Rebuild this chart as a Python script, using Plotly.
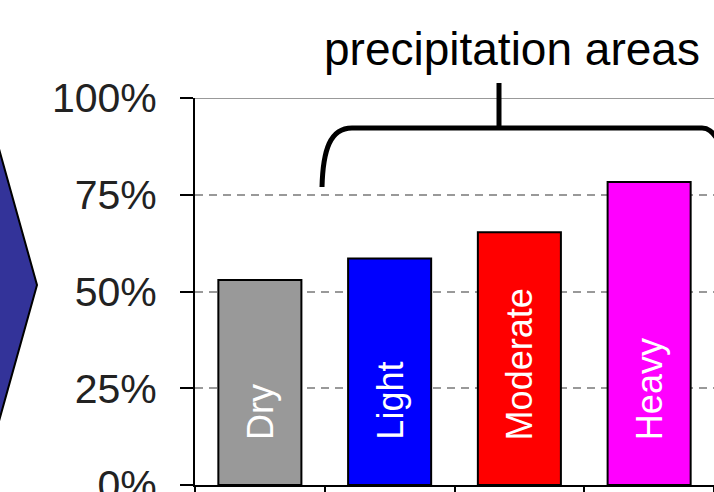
import plotly.graph_objects as go

categories = ["Dry", "Light", "Moderate", "Heavy"]
values = [53, 58.5, 65.3, 78.3]
colors = ["#999999", "#0000FF", "#FF0000", "#FF00FF"]
y_ticks = [0, 25, 50, 75, 100]
y_labels = ["0%", "25%", "50%", "75%", "100%"]
title_text = "precipitation areas"

W, H = 714, 492
L, R, T, B = 195, 0, 98, 7
PW, PH = W - L - R, H - T - B
FONT = "Liberation Sans, Arial, sans-serif"


def px(x, y):
    return (x - L) / PW, (H - B - y) / PH


def path(points_cmds):
    out = []
    for cmd, pts in points_cmds:
        s = cmd
        for (x, y) in pts:
            a, b = px(x, y)
            s += f" {a:.5f},{b:.5f}"
        out.append(s)
    return " ".join(out)


fig = go.Figure()
fig.add_trace(go.Bar(
    x=categories, y=values,
    marker=dict(color=colors, line=dict(color="black", width=2)),
    showlegend=False, hoverinfo="skip",
))

for c in categories:
    fig.add_annotation(x=c, y=0, xref="x", yref="y", text=c, textangle=-90,
                       showarrow=False, yanchor="bottom", xanchor="center", yshift=43,
                       font=dict(family=FONT, size=36, color="white"))

fig.add_annotation(x=px(512, 0)[0], y=px(0, 49)[1], xref="paper", yref="paper",
                   text=title_text, showarrow=False, xanchor="center", yanchor="middle",
                   font=dict(family=FONT, size=46, color="black"))

shapes = []
# top border line at 100%
shapes.append(dict(type="line", xref="paper", yref="y", x0=0, x1=1, y0=100, y1=100,
                   line=dict(color="#999999", width=2), layer="below"))
# chevron on the left
shapes.append(dict(type="path", xref="paper", yref="paper",
                   path=path([("M", [(-6, 131)]), ("L", [(37, 285)]), ("L", [(-6, 439)])]) + " Z",
                   fillcolor="#333399", line=dict(color="black", width=2)))
# brace
shapes.append(dict(type="path", xref="paper", yref="paper",
                   path=path([("M", [(322, 187)]),
                              ("C", [(323, 150), (330, 128), (352, 128)]),
                              ("L", [(702, 128)]),
                              ("C", [(708, 128), (712, 131), (718, 140)])]),
                   line=dict(color="black", width=5)))
shapes.append(dict(type="path", xref="paper", yref="paper",
                   path=path([("M", [(499, 83)]), ("L", [(499, 128)])]),
                   line=dict(color="black", width=5)))

fig.update_layout(
    width=W, height=H,
    margin=dict(l=L, r=R, t=T, b=B, pad=0, autoexpand=False),
    paper_bgcolor="white", plot_bgcolor="white",
    bargap=0.36,
    shapes=shapes,
    font=dict(family=FONT),
    xaxis=dict(showticklabels=False, ticks="outside", tickson="boundaries", ticklen=8,
               tickwidth=2, tickcolor="black", showline=True, linecolor="black", linewidth=2,
               showgrid=False, zeroline=False, automargin=False),
    yaxis=dict(range=[0, 100], tickvals=y_ticks, ticktext=y_labels, ticks="outside",
               ticklen=13, tickwidth=2, tickcolor="black", showline=True, linecolor="black",
               linewidth=2, showgrid=True, gridcolor="#999999", gridwidth=2, griddash="8px,6px",
               zeroline=False, ticklabelstandoff=15, ticklabeloverflow="allow",
               automargin=False,
               tickfont=dict(family=FONT, size=41, color="#222222")),
)

fig.write_html("out.html", config={"displayModeBar": False},
               post_script="document.body.style.margin='0';document.body.style.overflow='hidden';")
